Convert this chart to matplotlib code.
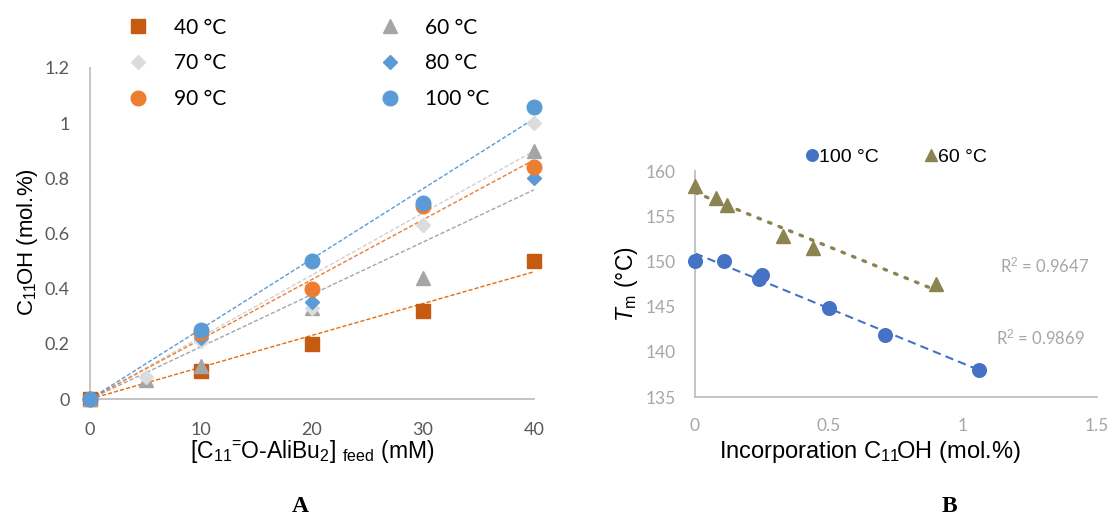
import numpy as np
import matplotlib
matplotlib.use("Agg")
import matplotlib.pyplot as plt

plt.rcParams['mathtext.fontset'] = 'custom'
plt.rcParams['mathtext.rm'] = 'Liberation Sans'
plt.rcParams['mathtext.it'] = 'Liberation Sans:italic'
plt.rcParams['mathtext.bf'] = 'Liberation Sans:bold'

# ---------------- Panel A data ----------------
feed_40 = [0, 10, 20, 30, 40]
c11_40 = [0, 0.10, 0.20, 0.32, 0.50]
feed_60 = [0, 5, 10, 20, 30, 40]
c11_60 = [0, 0.07, 0.12, 0.33, 0.44, 0.90]
feed_70 = [0, 5, 10, 20, 30, 40]
c11_70 = [0, 0.08, 0.21, 0.33, 0.63, 1.00]
feed_80 = [0, 10, 20, 40]
c11_80 = [0, 0.22, 0.35, 0.80]
feed_90 = [0, 10, 20, 30, 40]
c11_90 = [0, 0.24, 0.40, 0.70, 0.84]
feed_100 = [0, 10, 20, 30, 40]
c11_100 = [0, 0.25, 0.50, 0.71, 1.06]

labels_A = ['40 °C', '60 °C', '70 °C', '80 °C', '90 °C', '100 °C']
xticks_A = [0, 10, 20, 30, 40]
yticks_A = [0, 0.2, 0.4, 0.6, 0.8, 1.0, 1.2]
yticklabels_A = ['0', '0.2', '0.4', '0.6', '0.8', '1', '1.2']

# ---------------- Panel B data ----------------
inc_100 = [0, 0.11, 0.24, 0.25, 0.50, 0.71, 1.06]
tm_100 = [150.0, 150.1, 148.0, 148.5, 144.8, 141.9, 138.0]
inc_60 = [0, 0.08, 0.12, 0.33, 0.44, 0.90]
tm_60 = [158.3, 157.0, 156.2, 152.8, 151.5, 147.5]
labels_B = ['100 °C', '60 °C']
r2_texts = ['R$^2$ = 0.9647', 'R$^2$ = 0.9869']
xticks_B = [0, 0.5, 1, 1.5]
xticklabels_B = ['0', '0.5', '1', '1.5']
yticks_B = [135, 140, 145, 150, 155, 160]

fig = plt.figure(figsize=(11.07, 5.28), dpi=100)

# ================= Panel A =================
axA = fig.add_axes([0.0813, 0.2443, 0.4011, 0.627])
series = [
    (feed_40, c11_40, 's', '#C55A11', '#E46C0A', 10, True),
    (feed_60, c11_60, '^', '#A5A5A5', '#A5A5A5', 9.5, True),
    (feed_70, c11_70, 'D', '#DCDCDC', '#D0D0D0', 7.5, True),
    (feed_80, c11_80, 'D', '#5B9BD5', '#5B9BD5', 7.5, False),
    (feed_90, c11_90, 'o', '#ED7D31', '#ED7D31', 10.5, True),
    (feed_100, c11_100, 'o', '#5B9BD5', '#5B9BD5', 10.5, True),
]
handles = []
for (xs, ys, mk, col, lcol, ms, trend), lab in zip(series, labels_A):
    xs = np.asarray(xs, float)
    ys = np.asarray(ys, float)
    if trend:
        slope = np.sum(xs * ys) / np.sum(xs * xs)
        xl = np.array([0, 40])
        axA.plot(xl, slope * xl, ls=(0, (3, 1.5)), lw=1.0, color=lcol, zorder=2)
    h, = axA.plot(xs, ys, ls='none', marker=mk, ms=ms, color=col,
                  markeredgecolor=col, zorder=3, label=lab, clip_on=False)
    handles.append(h)

axA.set_xlim(0, 40)
axA.set_ylim(0, 1.2)
axA.set_xticks(xticks_A)
axA.set_yticks(yticks_A)
axA.set_yticklabels(yticklabels_A)
for sp in ['top', 'right']:
    axA.spines[sp].set_visible(False)
for sp in ['left', 'bottom']:
    axA.spines[sp].set_color('#BFBFBF')
    axA.spines[sp].set_linewidth(1.3)
axA.tick_params(length=0, labelsize=13, labelcolor='#595959')
axA.tick_params(axis='x', pad=16.5)
axA.tick_params(axis='y', pad=14.5)
for t in axA.get_xticklabels() + axA.get_yticklabels():
    t.set_fontfamily('Lato')
axA.set_ylabel('C$_{11}\\!$OH (mol.%)', fontsize=16, family='Liberation Sans')
axA.yaxis.set_label_coords(-0.112, 0.474)
axA.set_xlabel('[C$_{11}\\!{}^{=}\\!$O-AliBu$_{2}$] $_{\\rm feed}$ (mM)', fontsize=16.5,
               family='Liberation Sans', labelpad=0)

order = [0, 2, 4, 1, 3, 5]
legA = fig.legend([handles[i] for i in order], [labels_A[i] for i in order],
                  ncol=2, loc='upper left', bbox_to_anchor=(0.0987, 1.002),
                  frameon=False, prop={'family': 'Lato', 'size': 15},
                  handlelength=1.0, handletextpad=1.2, columnspacing=7.35,
                  labelspacing=0.75, numpoints=1, markerscale=1.0)

# ================= Panel B =================
axB = fig.add_axes([0.6278, 0.2481, 0.3632, 0.428])
x1 = np.asarray(inc_100); y1 = np.asarray(tm_100)
p1 = np.polyfit(x1, y1, 1)
xl1 = np.array([x1.min(), x1.max()])
axB.plot(xl1, np.polyval(p1, xl1), ls=(0, (4, 2.5)), lw=1.5, color='#4472C4', zorder=2)
x2 = np.asarray(inc_60); y2 = np.asarray(tm_60)
p2 = np.polyfit(x2, y2, 1)
xl2 = np.array([x2.min(), x2.max()])
axB.plot(xl2, np.polyval(p2, xl2), ls=(0, (0.8, 2.6)), lw=2.4, color='#8C8450',
         dash_capstyle='round', zorder=2)
hB1, = axB.plot(x1, y1, 'o', ms=9.8, color='#4472C4', zorder=3, clip_on=False, label=labels_B[0])
hB2, = axB.plot(x2, y2, '^', ms=10, color='#8C8450', zorder=3, clip_on=False, label=labels_B[1])

axB.set_xlim(0, 1.5)
axB.set_ylim(135, 160)
axB.set_xticks(xticks_B)
axB.set_xticklabels(xticklabels_B)
axB.set_yticks(yticks_B)
for sp in ['top', 'right']:
    axB.spines[sp].set_visible(False)
for sp in ['left', 'bottom']:
    axB.spines[sp].set_color('#BFBFBF')
    axB.spines[sp].set_linewidth(1.3)
axB.tick_params(length=0, labelsize=12.5, labelcolor='#A6A6A6')
axB.tick_params(axis='x', pad=15)
axB.tick_params(axis='y', pad=14)
for t in axB.get_xticklabels() + axB.get_yticklabels():
    t.set_fontfamily('Lato')
axB.set_ylabel('$\\mathit{T}_{\\rm m}$ (°C)', fontsize=16.5, family='Liberation Sans', labelpad=4)
axB.set_xlabel('Incorporation C$_{11}\\!$OH (mol.%)', fontsize=17, family='Liberation Sans')
axB.xaxis.set_label_coords(0.435, -0.185)

axB.text(1.47, 149.6, r2_texts[0], fontsize=12, color='#A6A6A6', family='Lato',
         ha='right', va='center')
axB.text(1.455, 141.6, r2_texts[1], fontsize=12, color='#A6A6A6', family='Lato',
         ha='right', va='center')

legB = fig.legend([hB1, hB2], labels_B, ncol=2, loc='center left',
                  bbox_to_anchor=(0.713, 0.703), frameon=False,
                  prop={'family': 'Liberation Sans', 'size': 14},
                  handlelength=0.5, handletextpad=0.15, columnspacing=2.4,
                  numpoints=1, markerscale=0.85)

fig.text(0.271, 0.02, 'A', fontsize=17, fontweight='bold', family='Liberation Serif',
         ha='center', va='bottom')
fig.text(0.858, 0.02, 'B', fontsize=17, fontweight='bold', family='Liberation Serif',
         ha='center', va='bottom')

fig.savefig('out.png', dpi=100)
